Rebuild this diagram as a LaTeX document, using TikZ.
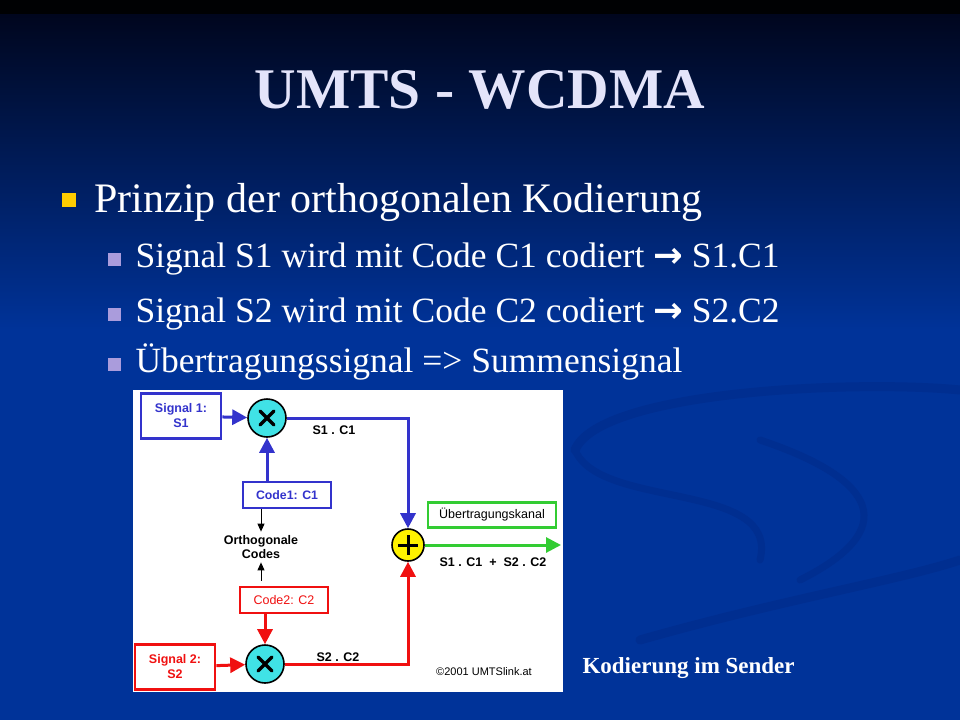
\documentclass[tikz,border=0pt]{standalone}
\usepackage{fontspec}
\setmainfont{Liberation Serif}
\setsansfont{Liberation Sans}
\newfontfamily\symfont{DejaVu Sans}
\usepackage{tikz}
\usetikzlibrary{arrows.meta}
\usetikzlibrary{positioning}

\definecolor{bgtop}{RGB}{0,6,30}
\definecolor{bgbot}{RGB}{0,51,153}
\definecolor{swirl}{RGB}{0,46,144}
\definecolor{titlecol}{RGB}{228,228,250}
\definecolor{subbul}{RGB}{170,156,220}
\definecolor{mainbul}{RGB}{255,204,0}
\definecolor{dblue}{RGB}{51,51,204}
\definecolor{dred}{RGB}{240,16,16}
\definecolor{dgreen}{RGB}{51,204,51}
\definecolor{dcyan}{RGB}{64,226,230}

\tikzset{
  sigbox/.style={draw=#1, line width=2.6pt, fill=white, text=#1,
    minimum width=80pt, minimum height=45pt, align=center,
    font=\sffamily\bfseries\fontsize{12.5}{15}\selectfont},
  codebox/.style={draw=#1, line width=2.6pt, fill=white, text=#1,
    minimum width=88pt, minimum height=26pt,
    font=\sffamily\fontsize{12.5}{14}\selectfont},
  mult/.style={circle, draw=black, line width=1.6pt, fill=dcyan,
    minimum size=38pt, inner sep=0pt,
    path picture={\draw[black, line width=3.5pt, line cap=round]
      ([shift={(-7pt,-7pt)}]path picture bounding box.center)
        -- ([shift={(7pt,7pt)}]path picture bounding box.center)
      ([shift={(-7pt,7pt)}]path picture bounding box.center)
        -- ([shift={(7pt,-7pt)}]path picture bounding box.center);}},
  adder/.style={circle, draw=black, line width=1.6pt, fill=yellow,
    minimum size=32pt, inner sep=0pt,
    path picture={\draw[black, line width=3pt]
      ([xshift=-10pt]path picture bounding box.center)
        -- ([xshift=10pt]path picture bounding box.center)
      ([yshift=-10pt]path picture bounding box.center)
        -- ([yshift=10pt]path picture bounding box.center);}},
  conn/.style={draw=#1, line width=3pt,
    -{Triangle[length=15pt,width=15pt]}},
  thin/.style={draw=black, line width=1pt,
    -{Triangle[length=8pt,width=7pt]}},
  lbl/.style={font=\sffamily\bfseries\fontsize{12.5}{14.5}\selectfont, text=black}
}

\begin{document}
\begin{tikzpicture}[x=1pt,y=-1pt]
  \useasboundingbox (0,0) rectangle (960,720);
  % background
  \fill[bgbot] (0,0) rectangle (960,720);
  \shade[top color=bgtop, bottom color=bgbot] (0,14) rectangle (960,330);
  \fill[black!90!bgtop] (0,0) rectangle (960,14);
  \draw[swirl, line width=9pt, line cap=round]
    (575,450) .. controls (600,390) and (860,380) .. (960,390);
  \draw[swirl, line width=7pt, line cap=round]
    (575,450) .. controls (600,510) and (780,480) .. (760,560);
  \draw[swirl, line width=7pt, line cap=round]
    (760,440) .. controls (880,480) and (900,530) .. (800,580);
  \draw[swirl, line width=9pt, line cap=round]
    (640,640) .. controls (780,600) and (900,580) .. (960,560);

  % title and bullets
  \node[anchor=base, text=titlecol, font=\bfseries\fontsize{57.5}{60}\selectfont]
    (title) at (480,108) {UMTS - WCDMA};
  \begin{scope}
    \tikzstyle{every node}=[text=white, anchor=base west]
    \fill[mainbul] (62,193) rectangle (76,207);
    \node[font=\fontsize{42}{46}\selectfont] (p0) at (91,212)
      {Prinzip der orthogonalen Kodierung};
    \foreach \yy in {253,308,358}
      \fill[subbul] (108,\yy) rectangle (121,\yy+13);
    \node[font=\fontsize{35.5}{40}\selectfont] (p1) at (132,267)
      {Signal S1 wird mit Code C1 codiert {\symfont\bfseries →} S1.C1};
    \node[font=\fontsize{35.5}{40}\selectfont] (p2) at (132,322)
      {Signal S2 wird mit Code C2 codiert {\symfont\bfseries →} S2.C2};
    \node[font=\fontsize{35.5}{40}\selectfont] (p3) at (132,372)
      {Übertragungssignal => Summensignal};
  \end{scope}

  % diagram panel
  \fill[white] (133,390) rectangle (563,692);
  \node[sigbox=dblue] (S1) at (181,416) {Signal 1:\\S1};
  \node[sigbox=dred] (S2) at (175,667) {Signal 2:\\S2};
  \node[mult] (X1) at (267,418) {};
  \node[mult] (X2) at (265,664) {};
  \node[adder] (Sum) at (408,545) {};
  \node[codebox=dblue, font=\sffamily\bfseries\fontsize{12.3}{14}\selectfont]
    (C1) at (287,495) {Code1: C1};
  \node[codebox=dred] (C2) at (284,600) {Code2: C2};
  \node[lbl, align=center] (OC) at (261,547) {Orthogonale\\Codes};
  \node[codebox=dgreen, text=black, minimum width=128pt, minimum height=25pt]
    (Kanal) at (492,515) {Übertragungskanal};
  \coordinate (Out) at (561,545);

  \path[conn=dblue] (S1) -- (X1);
  \path[conn=dblue] (C1.north -| X1) -- (X1.south);
  \path[conn=dblue] (X1.east) -| (Sum.north);
  \path[conn=dred] (S2) -- (X2);
  \path[conn=dred] (C2.south -| X2) -- (X2.north);
  \path[conn=dred] (X2.east) -| (Sum.south);
  \path[conn=dgreen] (Sum.east) -- (Out);
  \path[thin] (C1.south -| OC) -- (OC.north);
  \path[thin, shorten <=5pt] (C2.north -| OC) -- (OC.south);

  \node[lbl] (L1) at (334,430) {S1 . C1};
  \node[lbl] (L2) at (338,657) {S2 . C2};
  \node[lbl] (L3) at (493,562) {S1 . C1 \ + \ S2 . C2};
  \node[font=\sffamily\fontsize{11}{13}\selectfont] (copy) at (484,672)
    {©2001 UMTSlink.at};
  \node[anchor=base west, text=white, font=\bfseries\fontsize{23}{26}\selectfont]
    (cap) at (579,673) {Kodierung im Sender};
\end{tikzpicture}
\end{document}
